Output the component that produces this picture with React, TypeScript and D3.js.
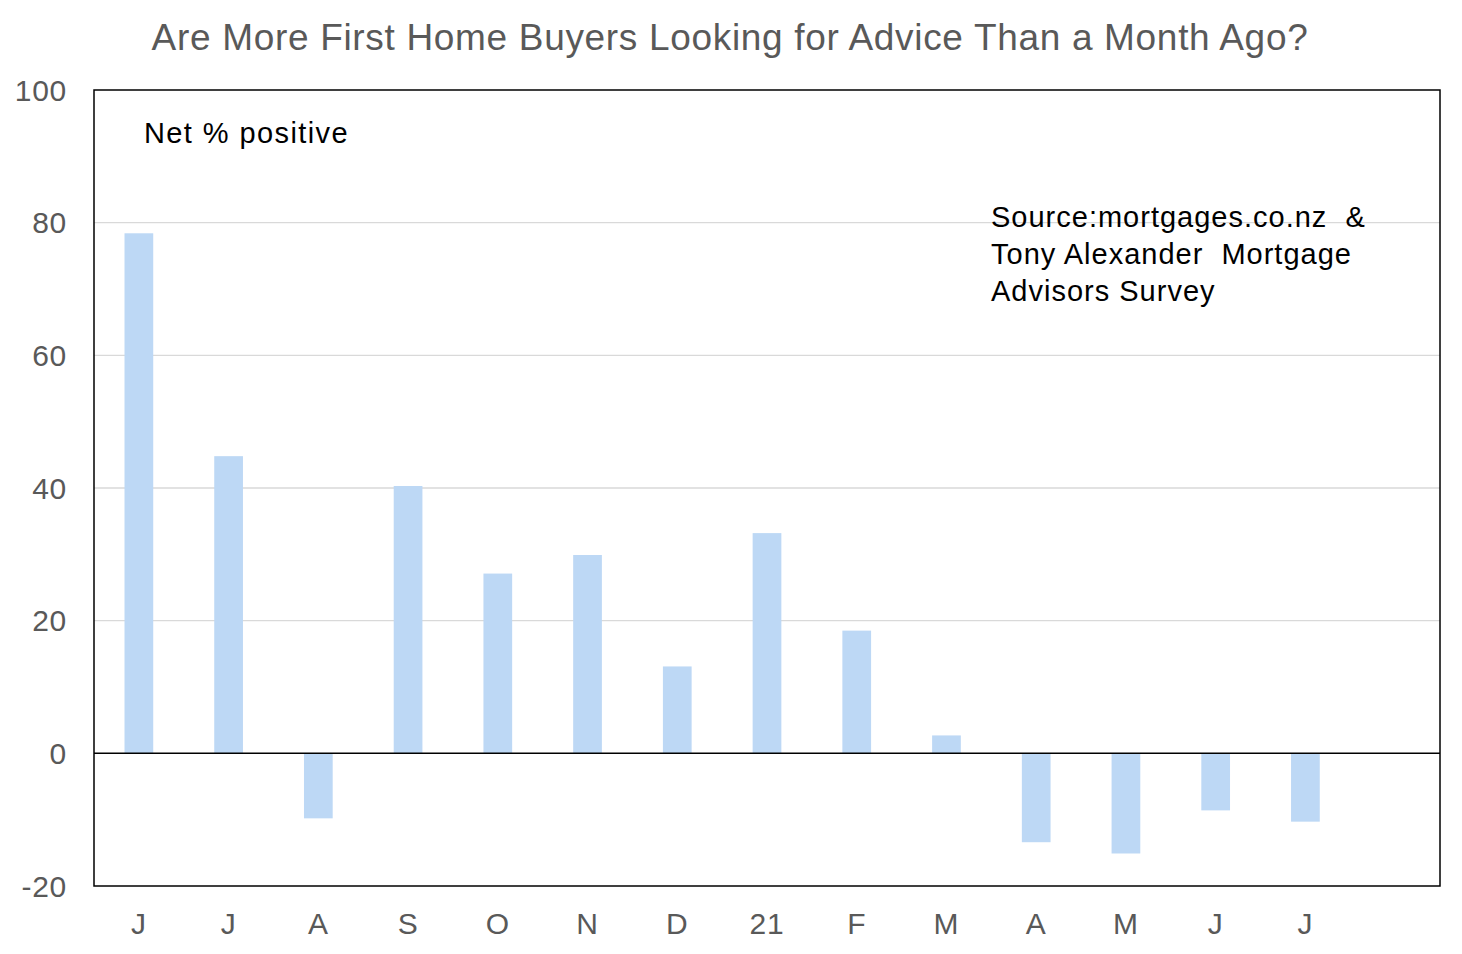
import { useEffect, useRef } from "react";
import * as d3 from "d3";

const months = ["J", "J", "A", "S", "O", "N", "D", "21", "F", "M", "A", "M", "J", "J", ""];
const netPositive = [78.4, 44.8, -9.8, 40.3, 27.1, 29.9, 13.1, 33.2, 18.5, 2.7, -13.4, -15.1, -8.6, -10.3, null];
const yTicks = [-20, 0, 20, 40, 60, 80, 100];
const sourceLines = ["Source:mortgages.co.nz  &", "Tony Alexander  Mortgage", "Advisors Survey"];

const W = 1462;
const H = 954;
const FONT = "'Liberation Sans', Arial, sans-serif";

export default function App() {
  const svgRef = useRef<SVGSVGElement>(null);

  useEffect(() => {
    if (!svgRef.current) return;
    const svg = d3.select(svgRef.current);
    svg.selectAll("*").remove();

    const margin = { top: 90, right: 22, bottom: 68, left: 94 };
    const width = W - margin.left - margin.right;
    const height = H - margin.top - margin.bottom;

    const g = svg.append("g").attr("transform", `translate(${margin.left},${margin.top})`);

    const x = d3
      .scaleBand<number>()
      .domain(d3.range(months.length))
      .range([0, width])
      .paddingInner(0.68)
      .paddingOuter(0.34);

    const y = d3.scaleLinear().domain([-20, 100]).range([height, 0]);

    // Gridlines
    g.selectAll("line.grid")
      .data(yTicks.filter((t) => t !== 0 && t !== -20 && t !== 100))
      .join("line")
      .attr("class", "grid")
      .attr("x1", 0)
      .attr("x2", width)
      .attr("y1", (d) => y(d))
      .attr("y2", (d) => y(d))
      .attr("stroke", "#d9d9d9")
      .attr("stroke-width", 1.3);

    // Bars
    g.selectAll("rect.bar")
      .data(netPositive.map((v, i) => ({ v, i })).filter((d) => d.v !== null))
      .join("rect")
      .attr("class", "bar")
      .attr("x", (d) => x(d.i) as number)
      .attr("width", x.bandwidth())
      .attr("y", (d) => y(Math.max(0, d.v as number)))
      .attr("height", (d) => Math.abs(y(d.v as number) - y(0)))
      .attr("fill", "#bdd8f5");

    // Zero line
    g.append("line")
      .attr("x1", 0)
      .attr("x2", width)
      .attr("y1", y(0))
      .attr("y2", y(0))
      .attr("stroke", "#000")
      .attr("stroke-width", 1.5);

    // Plot border
    g.append("rect")
      .attr("x", 0)
      .attr("y", 0)
      .attr("width", width)
      .attr("height", height)
      .attr("fill", "none")
      .attr("stroke", "#000")
      .attr("stroke-width", 1.5);

    // Y tick labels
    g.selectAll("text.ytick")
      .data(yTicks)
      .join("text")
      .attr("class", "ytick")
      .attr("x", -27)
      .attr("y", (d) => y(d))
      .attr("dy", "0.36em")
      .attr("text-anchor", "end")
      .style("font-family", FONT)
      .style("font-size", "30px")
      .style("letter-spacing", "0.7px")
      .style("fill", "#595959")
      .text((d) => d);

    // X tick labels
    g.selectAll("text.xtick")
      .data(months.map((m, i) => ({ m, i })))
      .join("text")
      .attr("class", "xtick")
      .attr("x", (d) => (x(d.i) as number) + x.bandwidth() / 2)
      .attr("y", height + 48)
      .attr("text-anchor", "middle")
      .style("font-family", FONT)
      .style("font-size", "30px")
      .style("letter-spacing", "0.7px")
      .style("fill", "#595959")
      .text((d) => d.m);

    // Title
    svg
      .append("text")
      .attr("x", 730)
      .attr("y", 50)
      .attr("text-anchor", "middle")
      .style("font-family", FONT)
      .style("font-size", "37px")
      .style("letter-spacing", "0.68px")
      .style("fill", "#595959")
      .text("Are More First Home Buyers Looking for Advice Than a Month Ago?");

    // Annotations
    g.append("text")
      .attr("x", 50)
      .attr("y", 53)
      .style("font-family", FONT)
      .style("font-size", "29px")
      .style("letter-spacing", "1.4px")
      .style("fill", "#000")
      .text("Net % positive");

    g.append("g")
      .selectAll("text")
      .data(sourceLines)
      .join("text")
      .attr("x", 897)
      .attr("y", (_, i) => 137 + i * 37)
      .style("font-family", FONT)
      .style("font-size", "29px")
      .style("letter-spacing", "1px")
      .style("fill", "#000")
      .style("white-space", "pre")
      .attr("xml:space", "preserve")
      .text((d) => d);
  }, []);

  return (
    <svg
      ref={svgRef}
      width={W}
      height={H}
      style={{ position: "absolute", left: 0, top: 0, background: "#fff" }}
    />
  );
}
